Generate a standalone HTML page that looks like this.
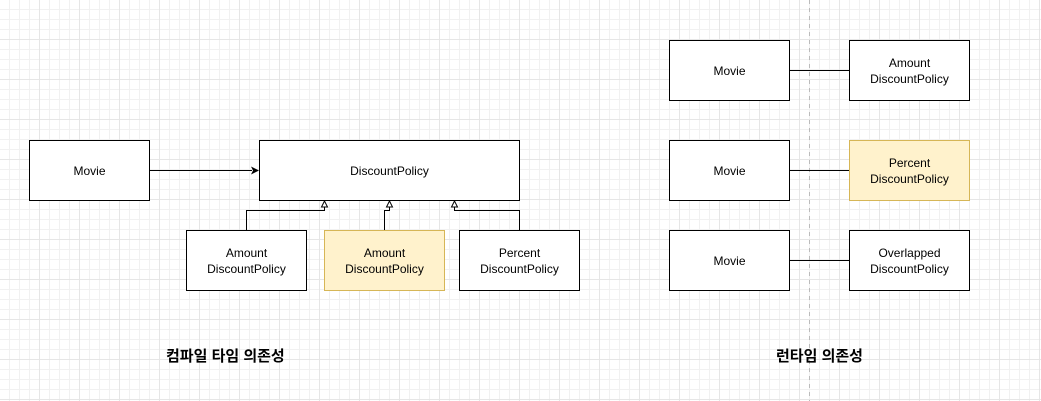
<!DOCTYPE html>
<html><head><meta charset="utf-8"><style>
html,body{margin:0;padding:0;}
body{width:1041px;height:401px;overflow:hidden;background:#fff;
background-image:linear-gradient(to right,#e6e6e6 1px,transparent 1px),linear-gradient(to bottom,#e6e6e6 1px,transparent 1px),linear-gradient(to right,#f1f1f1 1px,transparent 1px),linear-gradient(to bottom,#f1f1f1 1px,transparent 1px);
background-size:40px 40px,40px 40px,10px 10px,10px 10px;background-position:-1px -1px;position:relative;font-family:"Liberation Sans","Noto Sans CJK KR",sans-serif;}
.b{position:absolute;box-sizing:border-box;border:1px solid #000;background:#fff;display:flex;align-items:center;justify-content:center;text-align:center;font-size:12px;line-height:16px;color:#000;}
.y{background:#fff2cc;border-color:#d6b656;}
.t{position:absolute;font-weight:bold;font-size:15px;font-family:"Liberation Sans","Noto Sans CJK KR",sans-serif;}
svg{position:absolute;left:0;top:0;}
</style></head><body>
<svg width="1041" height="401">
<line x1="809.5" y1="0" x2="809.5" y2="401" stroke="#bbb" stroke-dasharray="4 4"/>
<line x1="149" y1="170.5" x2="252" y2="170.5" stroke="#000"/>
<polygon points="259,170.5 251,166.5 253,170.5 251,174.5" fill="#000"/>
<polyline points="246.5,230 246.5,210.5 324.5,210.5 324.5,207" fill="none" stroke="#000"/>
<polyline points="384.5,230 384.5,210.5 389.5,210.5 389.5,207" fill="none" stroke="#000"/>
<polyline points="519.5,230 519.5,210.5 454.5,210.5 454.5,207" fill="none" stroke="#000"/>
<polygon points="324.5,201 321.5,207 327.5,207" fill="#fff" stroke="#000"/>
<polygon points="389.5,201 386.5,207 392.5,207" fill="#fff" stroke="#000"/>
<polygon points="454.5,201 451.5,207 457.5,207" fill="#fff" stroke="#000"/>
<line x1="790" y1="70.5" x2="850" y2="70.5" stroke="#000"/>
<line x1="790" y1="170.5" x2="850" y2="170.5" stroke="#000"/>
<line x1="790" y1="260.5" x2="850" y2="260.5" stroke="#000"/>
</svg>
<div class="b" style="left:29px;top:140px;width:121px;height:61px">Movie</div>
<div class="b" style="left:259px;top:140px;width:261px;height:61px">DiscountPolicy</div>
<div class="b" style="left:186px;top:230px;width:121px;height:61px">Amount<br>DiscountPolicy</div>
<div class="b y" style="left:324px;top:230px;width:121px;height:61px">Amount<br>DiscountPolicy</div>
<div class="b" style="left:459px;top:230px;width:121px;height:61px">Percent<br>DiscountPolicy</div>
<div class="b" style="left:669px;top:40px;width:121px;height:61px">Movie</div>
<div class="b" style="left:849px;top:40px;width:121px;height:61px">Amount<br>DiscountPolicy</div>
<div class="b" style="left:669px;top:140px;width:121px;height:61px">Movie</div>
<div class="b y" style="left:849px;top:140px;width:121px;height:61px">Percent<br>DiscountPolicy</div>
<div class="b" style="left:669px;top:230px;width:121px;height:61px">Movie</div>
<div class="b" style="left:849px;top:230px;width:121px;height:61px">Overlapped<br>DiscountPolicy</div>
<div class="t" style="left:166px;top:345px">컴파일 타임 의존성</div>
<div class="t" style="left:776px;top:345px">런타임 의존성</div>
</body></html>
